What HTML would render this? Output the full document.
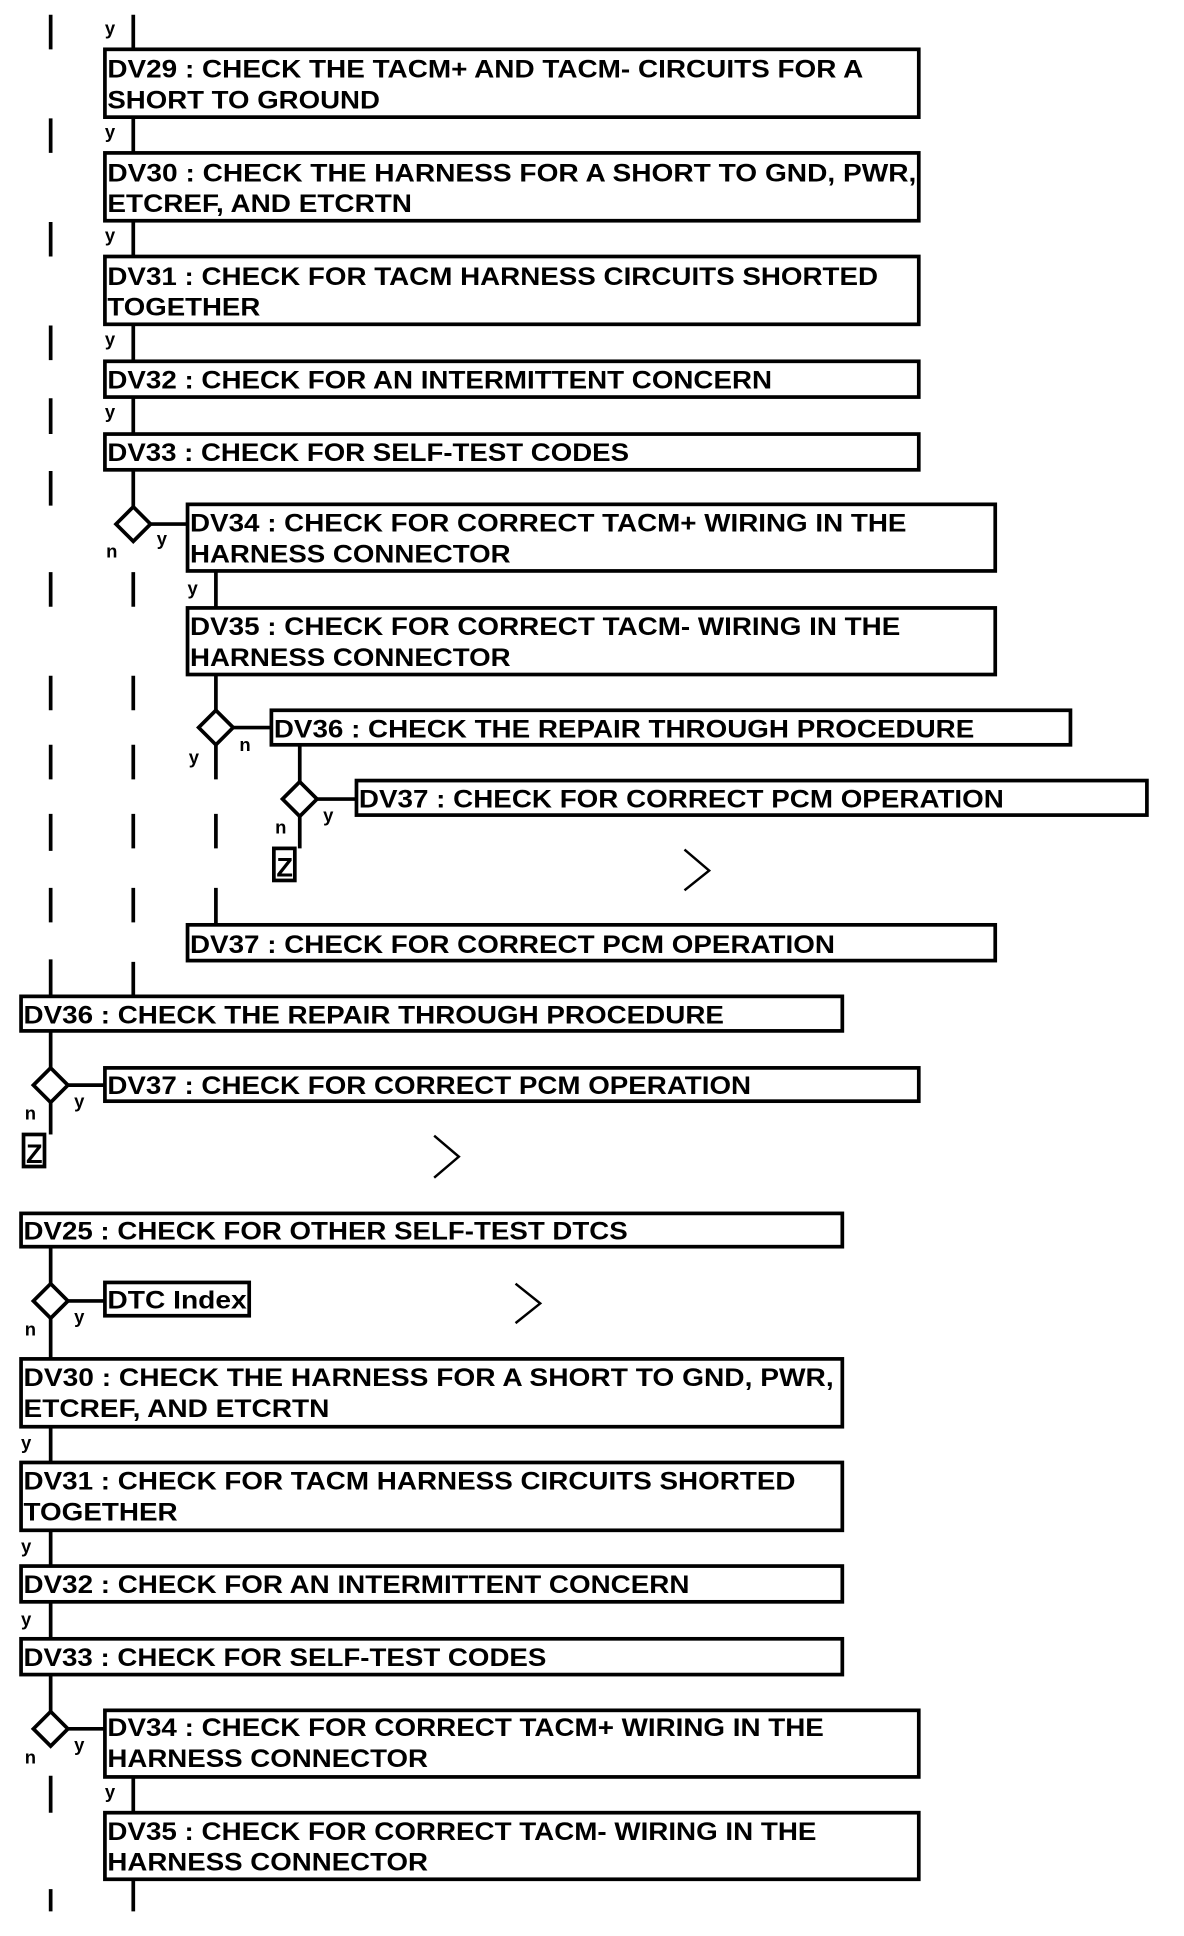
<!DOCTYPE html>
<html><head><meta charset="utf-8"><style>html,body{margin:0;padding:0;background:#fff}svg{display:block}</style></head>
<body>
<svg width="1184" height="1936" viewBox="0 0 960 1570" xmlns="http://www.w3.org/2000/svg" font-family="Liberation Sans, Arial, sans-serif" font-weight="bold">
<g stroke="#000" stroke-width="3" fill="none">
<!-- left dashed x=41 -->
<path d="M41 12V40M41 96V124M41 180V208M41 264V292M41 323V352M41 382V410M41 464V492M41 548V576M41 604V632M41 660V690M41 720V748M41 778V808"/>
<!-- x=108 -->
<path d="M108 12V40M108 95V124M108 179V208M108 263V293M108 322V352M108 381V411M108 464V492M108 548V576M108 604V632M108 660V688M108 720V748M108 780V808"/>
<!-- boxes top -->
<rect x="85" y="40" width="660" height="55"/>
<rect x="85" y="124" width="660" height="55"/>
<rect x="85" y="208" width="660" height="55"/>
<rect x="85" y="293" width="660" height="29"/>
<rect x="85" y="352" width="660" height="29"/>
<path d="M108 411L122 425L108 439L94 425Z"/><path d="M122 425H152"/>
<rect x="152" y="409" width="655" height="54"/>
<path d="M175 463V493"/>
<rect x="152" y="493" width="655" height="54"/>
<path d="M175 547V576"/>
<path d="M175 576L189 590L175 604L161 590Z"/><path d="M189 590H220"/>
<rect x="220" y="576" width="648" height="28"/>
<path d="M175 604V632M175 660V688M175 720V750"/>
<path d="M243 604V634"/>
<path d="M243 634L257 648L243 662L229 648Z"/><path d="M257 648H289"/>
<rect x="289" y="633" width="641" height="28"/>
<path d="M243 662V688"/>
<rect x="222" y="688" width="17" height="26"/>
<path d="M555 689L575 706L555 722" stroke-width="2"/>
<rect x="152" y="750" width="655" height="29"/>
<rect x="17" y="808" width="666" height="28"/>
<path d="M41 836V866"/>
<path d="M41 866L55 880L41 894L27 880Z"/><path d="M55 880H85"/>
<rect x="85" y="866" width="660" height="27"/>
<path d="M41 894V920"/>
<rect x="19" y="920" width="17" height="26"/>
<path d="M352 921L372 938L352 955" stroke-width="2"/>
<rect x="17" y="984" width="666" height="27"/>
<path d="M41 1011V1041"/>
<path d="M41 1041L55 1055L41 1069L27 1055Z"/><path d="M55 1055H85"/>
<rect x="85" y="1040" width="117" height="27"/>
<path d="M418 1041L438 1057L418 1073" stroke-width="2"/>
<path d="M41 1069V1102"/>
<rect x="17" y="1102" width="666" height="55"/>
<path d="M41 1157V1186"/>
<rect x="17" y="1186" width="666" height="55"/>
<path d="M41 1241V1270"/>
<rect x="17" y="1270" width="666" height="29"/>
<path d="M41 1299V1329"/>
<rect x="17" y="1329" width="666" height="29"/>
<path d="M41 1358V1388"/>
<path d="M41 1388L55 1402L41 1416L27 1402Z"/><path d="M55 1402H85"/>
<rect x="85" y="1387" width="660" height="54"/>
<path d="M41 1440V1470M41 1532V1550"/>
<path d="M108 1441V1470M108 1524V1550"/>
<rect x="85" y="1470" width="660" height="54"/>
</g>
<g fill="#000" font-size="20" lengthAdjust="spacingAndGlyphs">
<text x="87" y="63" textLength="613" lengthAdjust="spacingAndGlyphs">DV29 : CHECK THE TACM+ AND TACM- CIRCUITS FOR A</text>
<text x="87" y="88" textLength="221" lengthAdjust="spacingAndGlyphs">SHORT TO GROUND</text>
<text x="87" y="147" textLength="656" lengthAdjust="spacingAndGlyphs">DV30 : CHECK THE  HARNESS FOR A SHORT TO GND, PWR,</text>
<text x="87" y="172" textLength="247" lengthAdjust="spacingAndGlyphs">ETCREF, AND ETCRTN</text>
<text x="87" y="231" textLength="625" lengthAdjust="spacingAndGlyphs">DV31 : CHECK FOR TACM HARNESS CIRCUITS SHORTED</text>
<text x="87" y="256" textLength="124" lengthAdjust="spacingAndGlyphs">TOGETHER</text>
<text x="87" y="315" textLength="539" lengthAdjust="spacingAndGlyphs">DV32 : CHECK FOR AN INTERMITTENT CONCERN</text>
<text x="87" y="374" textLength="423" lengthAdjust="spacingAndGlyphs">DV33 : CHECK FOR SELF-TEST CODES</text>
<text x="154" y="431" textLength="581" lengthAdjust="spacingAndGlyphs">DV34 : CHECK FOR CORRECT TACM+ WIRING IN THE</text>
<text x="154" y="456" textLength="260" lengthAdjust="spacingAndGlyphs">HARNESS CONNECTOR</text>
<text x="154" y="515" textLength="576" lengthAdjust="spacingAndGlyphs">DV35 : CHECK FOR CORRECT TACM- WIRING IN THE</text>
<text x="154" y="540" textLength="260" lengthAdjust="spacingAndGlyphs">HARNESS CONNECTOR</text>
<text x="222" y="598" textLength="568" lengthAdjust="spacingAndGlyphs">DV36 : CHECK THE REPAIR THROUGH PROCEDURE</text>
<text x="291" y="655" textLength="523" lengthAdjust="spacingAndGlyphs">DV37 : CHECK FOR CORRECT PCM OPERATION</text>
<text x="224" y="711" font-size="22">Z</text>
<text x="154" y="773" textLength="523" lengthAdjust="spacingAndGlyphs">DV37 : CHECK FOR CORRECT PCM OPERATION</text>
<text x="19" y="830" textLength="568" lengthAdjust="spacingAndGlyphs">DV36 : CHECK THE REPAIR THROUGH PROCEDURE</text>
<text x="87" y="887" textLength="522" lengthAdjust="spacingAndGlyphs">DV37 : CHECK FOR CORRECT PCM OPERATION</text>
<text x="21" y="943" font-size="22">Z</text>
<text x="19" y="1005" textLength="490" lengthAdjust="spacingAndGlyphs">DV25 : CHECK FOR OTHER SELF-TEST DTCS</text>
<text x="87" y="1061" textLength="113" lengthAdjust="spacingAndGlyphs">DTC Index</text>
<text x="19" y="1124" textLength="657" lengthAdjust="spacingAndGlyphs">DV30 : CHECK THE  HARNESS FOR A SHORT TO GND, PWR,</text>
<text x="19" y="1149" textLength="248" lengthAdjust="spacingAndGlyphs">ETCREF, AND ETCRTN</text>
<text x="19" y="1208" textLength="626" lengthAdjust="spacingAndGlyphs">DV31 : CHECK FOR TACM HARNESS CIRCUITS SHORTED</text>
<text x="19" y="1233" textLength="125" lengthAdjust="spacingAndGlyphs">TOGETHER</text>
<text x="19" y="1292" textLength="540" lengthAdjust="spacingAndGlyphs">DV32 : CHECK FOR AN INTERMITTENT CONCERN</text>
<text x="19" y="1351" textLength="424" lengthAdjust="spacingAndGlyphs">DV33 : CHECK FOR SELF-TEST CODES</text>
<text x="87" y="1408" textLength="581" lengthAdjust="spacingAndGlyphs">DV34 : CHECK FOR CORRECT TACM+ WIRING IN THE</text>
<text x="87" y="1433" textLength="260" lengthAdjust="spacingAndGlyphs">HARNESS CONNECTOR</text>
<text x="87" y="1492" textLength="575" lengthAdjust="spacingAndGlyphs">DV35 : CHECK FOR CORRECT TACM- WIRING IN THE</text>
<text x="87" y="1517" textLength="260" lengthAdjust="spacingAndGlyphs">HARNESS CONNECTOR</text>
</g>
<g fill="#000" font-size="15">
<text x="85" y="28">y</text><text x="85" y="112">y</text><text x="85" y="196">y</text><text x="85" y="280">y</text><text x="85" y="339">y</text>
<text x="86" y="452">n</text><text x="127" y="442">y</text>
<text x="152" y="482">y</text>
<text x="194" y="609">n</text><text x="153" y="619">y</text>
<text x="262" y="666">y</text><text x="223" y="676">n</text>
<text x="60" y="898">y</text><text x="20" y="908">n</text>
<text x="60" y="1073">y</text><text x="20" y="1083">n</text>
<text x="17" y="1175">y</text><text x="17" y="1259">y</text><text x="17" y="1318">y</text>
<text x="60" y="1420">y</text><text x="20" y="1430">n</text>
<text x="85" y="1458">y</text>
</g>
</svg>
</body></html>
